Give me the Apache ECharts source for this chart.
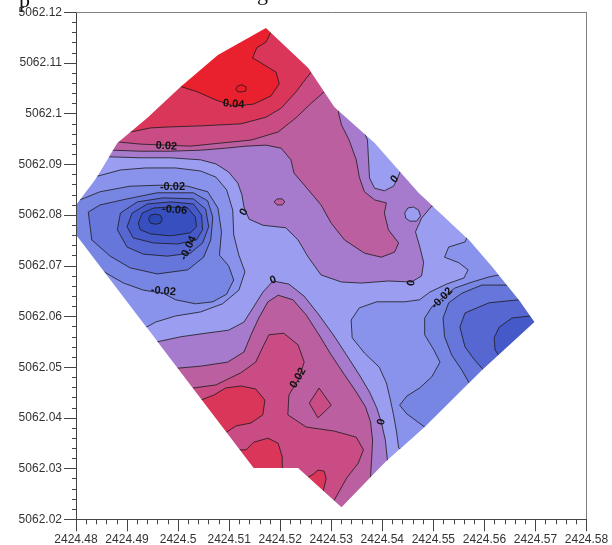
<!DOCTYPE html>
<html>
<head>
<meta charset="utf-8">
<script src="https://cdn.jsdelivr.net/npm/echarts@6/dist/echarts.min.js"></script>
<style>
html, body { margin: 0; background: #fff; }
#chart { width: 612px; height: 545px; }
</style>
</head>
<body>
<div id="chart"></div>
<script>
// axis extents (easting / northing)
const X_MIN = 2424.48, X_MAX = 2424.58, Y_MIN = 5062.02, Y_MAX = 5062.12, STEP = 0.01;

// survey outline, clockwise from the top corner
const surveyOutline = [[2424.5172,5062.1169],[2424.5255,5062.1090],[2424.5306,5062.1013],[2424.5385,5062.0942],[2424.5471,5062.0844],[2424.5570,5062.0751],[2424.5615,5062.0698],[2424.5668,5062.0632],[2424.5698,5062.0589],[2424.5595,5062.0494],[2424.5483,5062.0382],[2424.5404,5062.0311],[2424.5320,5062.0224],[2424.5235,5062.0301],[2424.5148,5062.0301],[2424.4800,5062.0761],[2424.4800,5062.0820],[2424.4837,5062.0869],[2424.4881,5062.0942],[2424.4940,5062.0992],[2424.5005,5062.1053],[2424.5078,5062.1116]];

// contour regions (points outside the outline are hidden by the mask)
// upper high
const topZero = [[2424.4863,5062.0915],[2424.4926,5062.0913],[2424.4985,5062.0913],[2424.5044,5062.0909],[2424.5074,5062.0901],[2424.5099,5062.0885],[2424.5117,5062.0863],[2424.5125,5062.0840],[2424.5129,5062.0816],[2424.5139,5062.0792],[2424.5166,5062.0780],[2424.5211,5062.0775],[2424.5235,5062.0751],[2424.5255,5062.0717],[2424.5280,5062.0682],[2424.5320,5062.0668],[2424.5359,5062.0666],[2424.5412,5062.0670],[2424.5457,5062.0668],[2424.5477,5062.0680],[2424.5481,5062.0707],[2424.5473,5062.0739],[2424.5465,5062.0767],[2424.5477,5062.0794],[2424.5497,5062.0818],[2424.5526,5062.0820],[2424.5536,5062.0928],[2424.5241,5062.1195],[2424.4847,5062.1027],[2424.4828,5062.0928]];
const topBay = [[2424.5359,5062.0978],[2424.5371,5062.0948],[2424.5373,5062.0909],[2424.5375,5062.0873],[2424.5385,5062.0853],[2424.5404,5062.0848],[2424.5422,5062.0857],[2424.5430,5062.0873],[2424.5438,5062.0893],[2424.5467,5062.0909]];
const topLake = [[2424.5444,5062.0804],[2424.5450,5062.0814],[2424.5461,5062.0816],[2424.5471,5062.0810],[2424.5475,5062.0798],[2424.5467,5062.0788],[2424.5454,5062.0788],[2424.5446,5062.0794]];
const topBump = [[2424.5188,5062.0826],[2424.5194,5062.0832],[2424.5204,5062.0832],[2424.5209,5062.0826],[2424.5204,5062.0820],[2424.5194,5062.0820]];
const topP01 = [[2424.4873,5062.0928],[2424.4926,5062.0926],[2424.4985,5062.0926],[2424.5044,5062.0928],[2424.5093,5062.0932],[2424.5133,5062.0936],[2424.5172,5062.0938],[2424.5202,5062.0932],[2424.5221,5062.0909],[2424.5227,5062.0883],[2424.5255,5062.0850],[2424.5280,5062.0820],[2424.5300,5062.0784],[2424.5326,5062.0751],[2424.5365,5062.0725],[2424.5398,5062.0717],[2424.5424,5062.0727],[2424.5432,5062.0745],[2424.5412,5062.0771],[2424.5404,5062.0804],[2424.5408,5062.0824],[2424.5385,5062.0830],[2424.5365,5062.0846],[2424.5355,5062.0875],[2424.5349,5062.0909],[2424.5335,5062.0948],[2424.5320,5062.0978],[2424.5314,5062.1003],[2424.5330,5062.1037],[2424.5241,5062.1185],[2424.4847,5062.1007],[2424.4847,5062.0932]];
const topP02 = [[2424.4885,5062.0944],[2424.4926,5062.0940],[2424.4975,5062.0938],[2424.5024,5062.0936],[2424.5083,5062.0942],[2424.5143,5062.0948],[2424.5196,5062.0964],[2424.5231,5062.0992],[2424.5261,5062.1021],[2424.5286,5062.1043],[2424.5310,5062.1066],[2424.5202,5062.1185],[2424.4867,5062.1027],[2424.4863,5062.0948]];
const topP03 = [[2424.4908,5062.0964],[2424.4946,5062.0972],[2424.4985,5062.0974],[2424.5044,5062.0976],[2424.5123,5062.0980],[2424.5172,5062.0993],[2424.5202,5062.1011],[2424.5231,5062.1043],[2424.5251,5062.1070],[2424.5261,5062.1082],[2424.5280,5062.1106],[2424.5162,5062.1195],[2424.4887,5062.1027],[2424.4887,5062.0978]];
const topP04 = [[2424.5001,5062.1055],[2424.5038,5062.1043],[2424.5074,5062.1027],[2424.5109,5062.1015],[2424.5148,5062.1019],[2424.5182,5062.1035],[2424.5198,5062.1059],[2424.5192,5062.1082],[2424.5166,5062.1098],[2424.5146,5062.1110],[2424.5154,5062.1130],[2424.5172,5062.1141],[2424.5182,5062.1161],[2424.5192,5062.1189],[2424.4975,5062.1106],[2424.4975,5062.1051]];
const topP05 = [[2424.5113,5062.1049],[2424.5117,5062.1055],[2424.5125,5062.1057],[2424.5133,5062.1053],[2424.5133,5062.1045],[2424.5125,5062.1043],[2424.5117,5062.1043]];

// lower high
const lowZero = [[2424.4959,5062.0550],[2424.5005,5062.0560],[2424.5054,5062.0567],[2424.5099,5062.0573],[2424.5129,5062.0589],[2424.5148,5062.0619],[2424.5166,5062.0648],[2424.5186,5062.0670],[2424.5217,5062.0664],[2424.5247,5062.0640],[2424.5276,5062.0603],[2424.5304,5062.0564],[2424.5330,5062.0524],[2424.5355,5062.0485],[2424.5375,5062.0451],[2424.5389,5062.0420],[2424.5398,5062.0392],[2424.5406,5062.0356],[2424.5410,5062.0317],[2424.5428,5062.0278],[2424.5320,5062.0203],[2424.5143,5062.0278],[2424.4926,5062.0534]];
const lowP01 = [[2424.4999,5062.0498],[2424.5044,5062.0502],[2424.5097,5062.0510],[2424.5129,5062.0530],[2424.5143,5062.0564],[2424.5158,5062.0597],[2424.5176,5062.0629],[2424.5196,5062.0642],[2424.5225,5062.0633],[2424.5251,5062.0603],[2424.5276,5062.0564],[2424.5300,5062.0524],[2424.5326,5062.0485],[2424.5349,5062.0451],[2424.5367,5062.0422],[2424.5377,5062.0392],[2424.5381,5062.0356],[2424.5379,5062.0317],[2424.5377,5062.0285],[2424.5389,5062.0248],[2424.5320,5062.0203],[2424.5143,5062.0278],[2424.4965,5062.0475]];
const lowP02 = [[2424.5030,5062.0459],[2424.5074,5062.0465],[2424.5123,5062.0489],[2424.5152,5062.0510],[2424.5166,5062.0540],[2424.5178,5062.0564],[2424.5207,5062.0567],[2424.5235,5062.0544],[2424.5247,5062.0510],[2424.5237,5062.0479],[2424.5217,5062.0445],[2424.5215,5062.0406],[2424.5251,5062.0382],[2424.5306,5062.0374],[2424.5349,5062.0362],[2424.5363,5062.0337],[2424.5353,5062.0311],[2424.5330,5062.0281],[2424.5306,5062.0238],[2424.5280,5062.0203],[2424.5123,5062.0278],[2424.5005,5062.0445]];
const lowDiamond = [[2424.5276,5062.0459],[2424.5300,5062.0425],[2424.5274,5062.0400],[2424.5257,5062.0429]];
const lowP03a = [[2424.5044,5062.0435],[2424.5070,5062.0445],[2424.5093,5062.0459],[2424.5123,5062.0463],[2424.5152,5062.0457],[2424.5170,5062.0435],[2424.5166,5062.0406],[2424.5143,5062.0390],[2424.5113,5062.0384],[2424.5095,5062.0372],[2424.5074,5062.0356]];
const lowP03b = [[2424.5119,5062.0337],[2424.5133,5062.0337],[2424.5148,5062.0352],[2424.5176,5062.0360],[2424.5196,5062.0350],[2424.5204,5062.0323],[2424.5204,5062.0293],[2424.5123,5062.0287]];
const lowP03c = [[2424.5251,5062.0281],[2424.5265,5062.0289],[2424.5274,5062.0297],[2424.5286,5062.0295],[2424.5290,5062.0281],[2424.5284,5062.0254]];

// western low
const westM01 = [[2424.4843,5062.0877],[2424.4887,5062.0889],[2424.4936,5062.0893],[2424.4995,5062.0893],[2424.5044,5062.0887],[2424.5074,5062.0875],[2424.5095,5062.0850],[2424.5107,5062.0810],[2424.5109,5062.0761],[2424.5119,5062.0721],[2424.5131,5062.0688],[2424.5119,5062.0652],[2424.5087,5062.0625],[2424.5044,5062.0609],[2424.4995,5062.0601],[2424.4956,5062.0589],[2424.4938,5062.0579],[2424.4847,5062.0573],[2424.4800,5062.0741],[2424.4800,5062.0840],[2424.4828,5062.0889]];
const westM02 = [[2424.4808,5062.0830],[2424.4847,5062.0846],[2424.4906,5062.0857],[2424.4965,5062.0859],[2424.5019,5062.0857],[2424.5058,5062.0846],[2424.5078,5062.0814],[2424.5085,5062.0767],[2424.5081,5062.0721],[2424.5099,5062.0700],[2424.5109,5062.0672],[2424.5095,5062.0644],[2424.5068,5062.0629],[2424.5034,5062.0625],[2424.4995,5062.0633],[2424.4971,5062.0646],[2424.4932,5062.0652],[2424.4893,5062.0666],[2424.4855,5062.0688],[2424.4800,5062.0711],[2424.4800,5062.0840]];
const westM03 = [[2424.4824,5062.0806],[2424.4847,5062.0820],[2424.4900,5062.0832],[2424.4959,5062.0844],[2424.5030,5062.0844],[2424.5058,5062.0828],[2424.5068,5062.0796],[2424.5064,5062.0751],[2424.5050,5062.0717],[2424.5019,5062.0692],[2424.4959,5062.0684],[2424.4906,5062.0696],[2424.4867,5062.0719],[2424.4831,5062.0751]];
const westM04 = [[2424.4881,5062.0771],[2424.4887,5062.0804],[2424.4920,5062.0826],[2424.4971,5062.0834],[2424.5030,5062.0832],[2424.5054,5062.0812],[2424.5060,5062.0777],[2424.5048,5062.0745],[2424.5024,5062.0725],[2424.4979,5062.0719],[2424.4932,5062.0723],[2424.4900,5062.0737]];
const westM05 = [[2424.4900,5062.0777],[2424.4910,5062.0804],[2424.4940,5062.0822],[2424.4985,5062.0826],[2424.5030,5062.0822],[2424.5046,5062.0800],[2424.5048,5062.0771],[2424.5036,5062.0751],[2424.4999,5062.0743],[2424.4952,5062.0745],[2424.4912,5062.0755]];
const westM06 = [[2424.4922,5062.0784],[2424.4930,5062.0804],[2424.4952,5062.0814],[2424.4985,5062.0816],[2424.5019,5062.0814],[2424.5034,5062.0796],[2424.5036,5062.0777],[2424.5024,5062.0765],[2424.4985,5062.0759],[2424.4946,5062.0763],[2424.4926,5062.0771]];
const westM07 = [[2424.4942,5062.0792],[2424.4946,5062.0800],[2424.4956,5062.0802],[2424.4965,5062.0800],[2424.4969,5062.0792],[2424.4965,5062.0784],[2424.4956,5062.0782],[2424.4946,5062.0784]];

// eastern low
const eastM01 = [[2424.5562,5062.0747],[2424.5530,5062.0737],[2424.5522,5062.0717],[2424.5550,5062.0706],[2424.5568,5062.0692],[2424.5560,5062.0676],[2424.5526,5062.0664],[2424.5493,5062.0648],[2424.5473,5062.0633],[2424.5444,5062.0629],[2424.5389,5062.0629],[2424.5355,5062.0617],[2424.5339,5062.0593],[2424.5341,5062.0558],[2424.5365,5062.0528],[2424.5394,5062.0500],[2424.5408,5062.0469],[2424.5416,5062.0435],[2424.5422,5062.0406],[2424.5428,5062.0372],[2424.5432,5062.0341],[2424.5497,5062.0297],[2424.5782,5062.0573],[2424.5674,5062.0771],[2424.5576,5062.0780]];
const eastM02 = [[2424.5629,5062.0682],[2424.5609,5062.0678],[2424.5576,5062.0668],[2424.5542,5062.0656],[2424.5517,5062.0636],[2424.5497,5062.0619],[2424.5483,5062.0597],[2424.5483,5062.0564],[2424.5501,5062.0534],[2424.5513,5062.0510],[2424.5497,5062.0481],[2424.5473,5062.0459],[2424.5448,5062.0443],[2424.5434,5062.0425],[2424.5448,5062.0408],[2424.5483,5062.0382],[2424.5517,5062.0356],[2424.5782,5062.0573],[2424.5674,5062.0702]];
const eastM03 = [[2424.5644,5062.0662],[2424.5595,5062.0662],[2424.5556,5062.0646],[2424.5530,5062.0627],[2424.5519,5062.0597],[2424.5522,5062.0560],[2424.5536,5062.0524],[2424.5556,5062.0494],[2424.5570,5062.0469],[2424.5605,5062.0445],[2424.5782,5062.0573],[2424.5684,5062.0692]];
const eastM04 = [[2424.5668,5062.0633],[2424.5609,5062.0627],[2424.5562,5062.0607],[2424.5552,5062.0579],[2424.5562,5062.0540],[2424.5581,5062.0514],[2424.5599,5062.0494],[2424.5625,5062.0475],[2424.5782,5062.0573],[2424.5694,5062.0642]];
const eastM05 = [[2424.5690,5062.0601],[2424.5654,5062.0597],[2424.5629,5062.0579],[2424.5619,5062.0558],[2424.5621,5062.0534],[2424.5629,5062.0522],[2424.5654,5062.0494],[2424.5782,5062.0573],[2424.5713,5062.0603]];

// contour labels: easting, northing, text, angle along the line (deg)
const contourLabels = [
  [2424.5109, 5062.1019, '0.04', -4],
  [2424.4977, 5062.0936, '0.02', -3],
  [2424.4989, 5062.0855, '-0.02', 0],
  [2424.4993, 5062.0810, '-0.06', -5],
  [2424.5020, 5062.0735, '-0.04', 65],
  [2424.4971, 5062.0650, '-0.02', -5],
  [2424.5129, 5062.0806, '0', 60],
  [2424.5186, 5062.0672, '0', 20],
  [2424.5424, 5062.0871, '0', 50],
  [2424.5457, 5062.0666, '0', 80],
  [2424.5517, 5062.0636, '-0.02', 45],
  [2424.5235, 5062.0479, '0.02', 60],
  [2424.5398, 5062.0392, '0', 75]
];

// fill colour of each band, keyed by its lower bound in hundredths
const bandColors = {
  '-8': '#2b47b4', '-7': '#3850bf', '-6': '#4659c8', '-5': '#5667d1', '-4': '#6676da',
  '-3': '#7886e3', '-2': '#8a93eb', '-1': '#9b9df1', '0': '#a67acd', '1': '#bb5fa0',
  '2': '#c94c84', '3': '#da3659', '4': '#e9202d', '5': '#ef1a27'
};
const bandColor = lvl => bandColors[String(Math.round(lvl * 100))];

// paint order: containers first, enclosed regions after
const layers = [
  [topZero, 0], [topBay, -0.01], [topLake, -0.01], [topBump, 0.01],
  [topP01, 0.01], [topP02, 0.02], [topP03, 0.03], [topP04, 0.04], [topP05, 0.05],
  [lowZero, 0], [lowP01, 0.01], [lowP02, 0.02], [lowDiamond, 0.02],
  [lowP03a, 0.03], [lowP03b, 0.03], [lowP03c, 0.03],
  [westM01, -0.02], [westM02, -0.03], [westM03, -0.04], [westM04, -0.05],
  [westM05, -0.06], [westM06, -0.07], [westM07, -0.08],
  [eastM01, -0.02], [eastM02, -0.03], [eastM03, -0.04], [eastM04, -0.05], [eastM05, -0.06]
];

// white mask: plot rectangle minus the survey outline
const topLeftIdx = surveyOutline.findIndex(p => p[0] === X_MIN && p[1] === Math.max(...surveyOutline.filter(q => q[0] === X_MIN).map(q => q[1])));
const outlineFromLeft = surveyOutline.slice(topLeftIdx).concat(surveyOutline.slice(0, topLeftIdx));
const maskPts = [[X_MIN, Y_MIN], [X_MAX, Y_MIN], [X_MAX, Y_MAX], [X_MIN, Y_MAX]].concat(outlineFromLeft);

const shapes = [{ pts: surveyOutline, fill: bandColor(-0.01), stroke: null }]
  .concat(layers.map(l => ({ pts: l[0], fill: bandColor(l[1]), stroke: '#1a1a1a' })))
  .concat([{ pts: maskPts, fill: '#ffffff', stroke: null }]);

const fmt = v => String(Number(v.toFixed(2)));
const axisFont = { fontSize: 12, color: '#333', fontFamily: '"Liberation Sans", Arial, sans-serif' };

const chart = echarts.init(document.getElementById('chart'), null, { renderer: 'canvas' });
chart.setOption({
  animation: false,
  backgroundColor: '#fff',
  grid: { left: 76, right: 25.5, top: 12.3, bottom: 25.7, outerBoundsMode: 'none', containLabel: false },
  xAxis: [
    {
      type: 'value', min: X_MIN, max: X_MAX, interval: STEP, position: 'bottom', z: 10,
      axisLine: { onZero: false, lineStyle: { color: '#444', width: 1 } },
      axisTick: { length: 12, lineStyle: { color: '#444' } },
      minorTick: { show: true, splitNumber: 5, length: 5, lineStyle: { color: '#444' } },
      splitLine: { show: false }, minorSplitLine: { show: false },
      axisLabel: Object.assign({ margin: 14, formatter: fmt }, axisFont)
    },
    {
      type: 'value', min: X_MIN, max: X_MAX, position: 'top', z: 10,
      axisLine: { onZero: false, lineStyle: { color: '#808080' } },
      axisTick: { show: false }, axisLabel: { show: false }, splitLine: { show: false }
    }
  ],
  yAxis: [
    {
      type: 'value', min: Y_MIN, max: Y_MAX, interval: STEP, position: 'left', z: 10,
      axisLine: { onZero: false, lineStyle: { color: '#444', width: 1 } },
      axisTick: { length: 12, lineStyle: { color: '#444' } },
      minorTick: { show: true, splitNumber: 5, length: 4, lineStyle: { color: '#444' } },
      splitLine: { show: false }, minorSplitLine: { show: false },
      axisLabel: Object.assign({ margin: 14, formatter: fmt }, axisFont)
    },
    {
      type: 'value', min: Y_MIN, max: Y_MAX, position: 'right', z: 10,
      axisLine: { onZero: false, lineStyle: { color: '#808080' } },
      axisTick: { show: false }, axisLabel: { show: false }, splitLine: { show: false }
    }
  ],
  graphic: [
    { type: 'text', left: 19, top: -10, silent: true, style: { text: 'p', font: '22px "Liberation Serif", serif', fill: '#111' } },
    { type: 'text', left: 257, top: -17, silent: true, style: { text: 'g', font: '22px "Liberation Serif", serif', fill: '#111' } }
  ],
  series: [
    {
      type: 'custom',
      clip: true,
      silent: true,
      data: shapes.map((s, i) => [i]),
      renderItem: function (params, api) {
        const s = shapes[params.dataIndex];
        return {
          type: 'polygon',
          z2: params.dataIndex,
          shape: { points: s.pts.map(p => api.coord(p)) },
          style: { fill: s.fill, stroke: s.stroke, lineWidth: 0.8 }
        };
      }
    },
    {
      type: 'custom',
      z: 5,
      silent: true,
      data: contourLabels.map((l, i) => [i]),
      renderItem: function (params, api) {
        const l = contourLabels[params.dataIndex];
        const p = api.coord([l[0], l[1]]);
        return {
          type: 'text',
          x: p[0], y: p[1],
          rotation: l[3] * Math.PI / 180,
          style: {
            text: l[2], fill: '#111', align: 'center', verticalAlign: 'middle',
            font: 'bold 11px "Liberation Sans", Arial, sans-serif'
          }
        };
      }
    }
  ]
});
</script>
</body>
</html>
